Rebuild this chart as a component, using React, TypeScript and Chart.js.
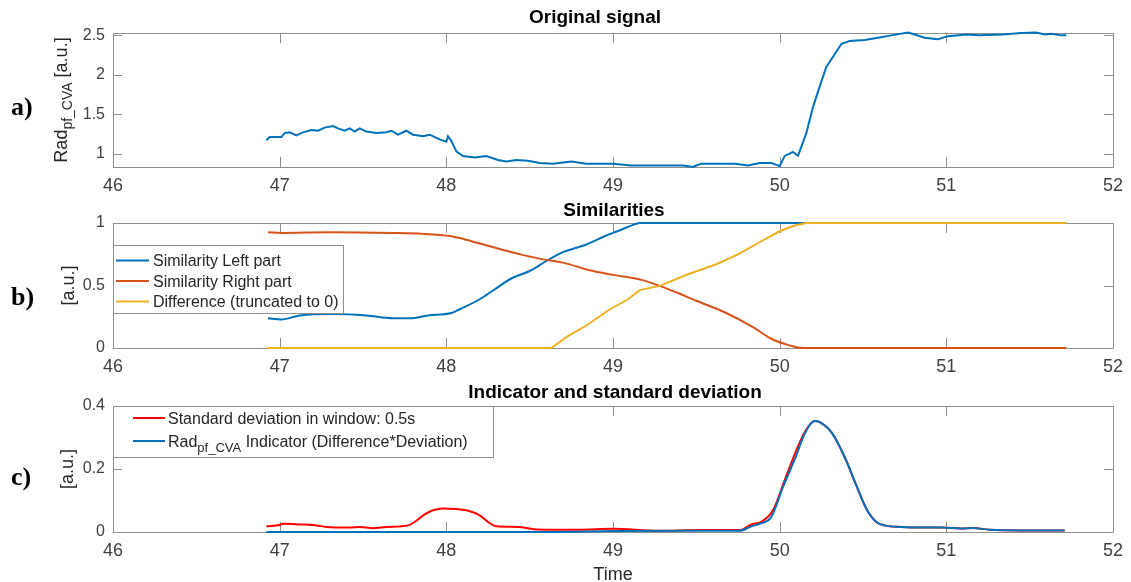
import React, { useEffect, useRef } from "react";
import { Chart, registerables } from "chart.js";

Chart.register(...registerables);

// ---------- data ----------
const timeTicks = [46, 47, 48, 49, 50, 51, 52];
const signalTicks = [1, 1.5, 2, 2.5];
const similarityTicks = [0, 0.5, 1];
const indicatorTicks = [0, 0.2, 0.4];

// a) original signal
const signalTime = [46.92, 46.94, 46.98, 47.01, 47.03, 47.06, 47.1, 47.14, 47.19, 47.23, 47.27, 47.32, 47.35, 47.39, 47.42, 47.45, 47.48, 47.52, 47.58, 47.64, 47.67, 47.71, 47.76, 47.8, 47.86, 47.9, 47.96, 48.0, 48.01, 48.03, 48.06, 48.1, 48.17, 48.24, 48.31, 48.36, 48.42, 48.49, 48.56, 48.64, 48.75, 48.84, 48.92, 49.0, 49.11, 49.23, 49.34, 49.42, 49.48, 49.5, 49.53, 49.64, 49.73, 49.81, 49.88, 49.95, 49.99, 50.0, 50.03, 50.08, 50.11, 50.16, 50.2, 50.24, 50.28, 50.33, 50.37, 50.42, 50.51, 50.59, 50.67, 50.77, 50.81, 50.87, 50.95, 51.01, 51.12, 51.2, 51.34, 51.45, 51.54, 51.59, 51.63, 51.69, 51.72];
const signalValue = [1.17, 1.21, 1.21, 1.21, 1.26, 1.27, 1.23, 1.27, 1.3, 1.29, 1.33, 1.35, 1.32, 1.29, 1.32, 1.28, 1.32, 1.28, 1.26, 1.27, 1.29, 1.24, 1.29, 1.24, 1.22, 1.24, 1.18, 1.15, 1.22, 1.16, 1.03, 0.97, 0.95, 0.97, 0.92, 0.9, 0.92, 0.91, 0.88, 0.87, 0.9, 0.87, 0.87, 0.87, 0.85, 0.85, 0.85, 0.85, 0.83, 0.85, 0.87, 0.87, 0.87, 0.85, 0.88, 0.88, 0.85, 0.84, 0.97, 1.02, 0.97, 1.26, 1.59, 1.85, 2.1, 2.26, 2.39, 2.43, 2.44, 2.47, 2.5, 2.535, 2.51, 2.47, 2.45, 2.49, 2.51, 2.5, 2.51, 2.53, 2.535, 2.51, 2.52, 2.5, 2.5];

// b) similarities
const leftTime = [46.93, 47.01, 47.12, 47.32, 47.52, 47.68, 47.78, 47.89, 48.03, 48.08, 48.2, 48.28, 48.39, 48.5, 48.6, 48.7, 48.84, 48.95, 49.06, 49.11, 49.16, 50.0, 51.0, 51.72];
const leftValue = [0.238, 0.228, 0.26, 0.272, 0.26, 0.238, 0.238, 0.26, 0.28, 0.31, 0.39, 0.46, 0.556, 0.616, 0.696, 0.767, 0.828, 0.894, 0.952, 0.979, 1, 1, 1, 1];
const rightTime = [46.93, 47.01, 47.3, 47.68, 47.86, 48.03, 48.08, 48.19, 48.33, 48.47, 48.58, 48.7, 48.86, 49.0, 49.17, 49.28, 49.39, 49.5, 49.67, 49.84, 49.95, 50.06, 50.14, 51.0, 51.72];
const rightValue = [0.926, 0.921, 0.926, 0.92, 0.913, 0.894, 0.88, 0.84, 0.788, 0.741, 0.709, 0.683, 0.622, 0.585, 0.545, 0.497, 0.44, 0.378, 0.286, 0.167, 0.074, 0.021, 0, 0, 0];
const diffTime = [46.92, 48.0, 48.63, 48.72, 48.84, 48.97, 49.09, 49.16, 49.28, 49.45, 49.62, 49.75, 49.89, 50.0, 50.09, 50.16, 51.0, 51.72];
const diffValue = [0, 0, 0, 0.087, 0.18, 0.3, 0.39, 0.463, 0.497, 0.59, 0.67, 0.749, 0.854, 0.934, 0.98, 1, 1, 1];

// c) standard deviation and indicator
const stdTime = [46.92, 47.0, 47.02, 47.12, 47.22, 47.28, 47.42, 47.48, 47.56, 47.64, 47.77, 47.81, 47.87, 47.92, 47.98, 48.06, 48.12, 48.2, 48.25, 48.3, 48.43, 48.55, 48.79, 49.0, 49.27, 49.52, 49.76, 49.83, 49.89, 49.96, 50.03, 50.1, 50.15, 50.21, 50.24, 50.31, 50.39, 50.46, 50.52, 50.58, 50.63, 50.73, 50.85, 50.97, 51.09, 51.16, 51.26, 51.45, 51.71];
const stdValue = [0.018, 0.022, 0.026, 0.024, 0.021, 0.016, 0.014, 0.016, 0.012, 0.016, 0.021, 0.032, 0.056, 0.069, 0.075, 0.073, 0.069, 0.053, 0.032, 0.018, 0.016, 0.008, 0.007, 0.01, 0.004, 0.006, 0.006, 0.024, 0.032, 0.069, 0.164, 0.259, 0.317, 0.352, 0.349, 0.317, 0.238, 0.148, 0.074, 0.032, 0.021, 0.016, 0.014, 0.014, 0.011, 0.013, 0.007, 0.005, 0.005];
const indicatorTime = [46.92, 48.63, 49.0, 49.5, 49.76, 49.83, 49.88, 49.95, 50.02, 50.1, 50.15, 50.21, 50.24, 50.31, 50.39, 50.46, 50.52, 50.58, 50.63, 50.73, 50.85, 50.97, 51.09, 51.16, 51.26, 51.45, 51.71];
const indicatorValue = [0, 0, 0.003, 0.004, 0.004, 0.018, 0.026, 0.048, 0.143, 0.243, 0.312, 0.352, 0.349, 0.317, 0.238, 0.148, 0.074, 0.032, 0.021, 0.016, 0.014, 0.014, 0.011, 0.013, 0.007, 0.005, 0.005];

// ---------- styling ----------
const SANS = '"Liberation Sans", Arial, Helvetica, sans-serif';
const SERIF = '"Liberation Serif", "Times New Roman", serif';
const TEXT = "#262626";
const TICK_TEXT = "#404040";
const AXIS = "#8f8f8f";
const BLUE = "#0072BD";
const ORANGE = "#D95319";
const YELLOW = "#EDB120";
const RED = "#FF0000";

const WIDTH = 1131;
const AXIS_LEFT = 113;
const AXIS_RIGHT = 1114;

type Part = { text: string; sub?: boolean };
type LegendRow = { y: number; color: string; parts: Part[] };
type LegendSpec = {
  left: number; top: number; width: number; height: number;
  lineX0: number; lineX1: number; textX: number; rows: LegendRow[];
};
type PanelSpec = {
  title: string; titleX: number; titleY: number;
  letter: string; letterY: number;
  yLabel: Part[]; yLabelX: number; yLabelSize: number; yLabelSub: number;
  xLabel?: string; xLabelY?: number;
  yTicks: number[];
  legend?: LegendSpec;
};

function richWidth(ctx: CanvasRenderingContext2D, parts: Part[], size: number, subSize: number) {
  let w = 0;
  for (const p of parts) {
    ctx.font = `${p.sub ? subSize : size}px ${SANS}`;
    w += ctx.measureText(p.text).width;
  }
  return w;
}

function drawRich(ctx: CanvasRenderingContext2D, parts: Part[], x: number, y: number, size: number, subSize: number, drop: number) {
  let cx = x;
  ctx.textAlign = "left";
  ctx.textBaseline = "alphabetic";
  for (const p of parts) {
    ctx.font = `${p.sub ? subSize : size}px ${SANS}`;
    ctx.fillText(p.text, cx, p.sub ? y + drop : y);
    cx += ctx.measureText(p.text).width;
  }
}

function panelPlugin(spec: PanelSpec) {
  return {
    id: "panelDecor",
    beforeDatasetsDraw(chart: any) {
      const { ctx, chartArea: a } = chart;
      const xs = chart.scales.x;
      const ys = chart.scales.y;
      ctx.save();
      ctx.strokeStyle = AXIS;
      ctx.lineWidth = 1;
      ctx.strokeRect(Math.round(a.left) + 0.5, Math.round(a.top) + 0.5, Math.round(a.right - a.left), Math.round(a.bottom - a.top));
      ctx.beginPath();
      for (const t of timeTicks) {
        const px = Math.round(xs.getPixelForValue(t)) + 0.5;
        ctx.moveTo(px, a.bottom);
        ctx.lineTo(px, a.bottom - 10);
        ctx.moveTo(px, a.top);
        ctx.lineTo(px, a.top + 10);
      }
      for (const v of spec.yTicks) {
        const py = Math.round(ys.getPixelForValue(v)) + 0.5;
        ctx.moveTo(a.left, py);
        ctx.lineTo(a.left + 9, py);
        ctx.moveTo(a.right, py);
        ctx.lineTo(a.right - 9, py);
      }
      ctx.stroke();
      ctx.restore();
    },
    afterDatasetsDraw(chart: any) {
      const lg = spec.legend;
      if (!lg) return;
      const ctx: CanvasRenderingContext2D = chart.ctx;
      ctx.save();
      ctx.fillStyle = "#ffffff";
      ctx.fillRect(lg.left, lg.top, lg.width, lg.height);
      ctx.strokeStyle = AXIS;
      ctx.lineWidth = 1;
      ctx.strokeRect(lg.left + 0.5, lg.top + 0.5, lg.width, lg.height);
      for (const r of lg.rows) {
        ctx.strokeStyle = r.color;
        ctx.lineWidth = 2;
        ctx.beginPath();
        ctx.moveTo(lg.lineX0, r.y);
        ctx.lineTo(lg.lineX1, r.y);
        ctx.stroke();
        ctx.fillStyle = TEXT;
        drawRich(ctx, r.parts, lg.textX, r.y + 5.7, 16, 13, 5);
      }
      ctx.restore();
    },
    afterDraw(chart: any) {
      const ctx: CanvasRenderingContext2D = chart.ctx;
      const a = chart.chartArea;
      ctx.save();
      // title
      ctx.fillStyle = "#000000";
      ctx.font = `bold 19px ${SANS}`;
      ctx.textAlign = "center";
      ctx.textBaseline = "alphabetic";
      ctx.fillText(spec.title, spec.titleX, spec.titleY);
      // panel letter
      ctx.font = `bold 26px ${SERIF}`;
      ctx.textAlign = "left";
      ctx.fillText(spec.letter, 11, spec.letterY);
      // y label (rotated, may contain a subscript)
      ctx.fillStyle = TEXT;
      const w = richWidth(ctx, spec.yLabel, spec.yLabelSize, spec.yLabelSub);
      ctx.translate(spec.yLabelX, (a.top + a.bottom) / 2);
      ctx.rotate(-Math.PI / 2);
      drawRich(ctx, spec.yLabel, -w / 2, 0, spec.yLabelSize, spec.yLabelSub, 5);
      ctx.setTransform(1, 0, 0, 1, 0, 0);
      // x label
      if (spec.xLabel) {
        ctx.font = `18px ${SANS}`;
        ctx.textAlign = "center";
        ctx.fillText(spec.xLabel, (a.left + a.right) / 2, spec.xLabelY as number);
      }
      ctx.restore();
    },
  };
}

// Later series in a panel are painted over earlier ones (lower `order` is drawn last).
function series(label: string, xs: number[], ys: number[], color: string, smooth: boolean, order: number) {
  return {
    label,
    data: xs.map((x, i) => ({ x, y: ys[i] })),
    borderColor: color,
    backgroundColor: color,
    borderWidth: 2,
    pointRadius: 0,
    fill: false,
    tension: 0,
    cubicInterpolationMode: smooth ? "monotone" : "default",
    clip: false,
    order,
  };
}

type PanelConfig = {
  height: number; areaTop: number; areaBottom: number;
  yMin: number; yMax: number; datasets: any[]; spec: PanelSpec;
};

function buildChart(canvas: HTMLCanvasElement, cfg: PanelConfig) {
  const tickFont = { family: SANS, size: 18 };
  return new Chart(canvas, {
    type: "line",
    data: { datasets: cfg.datasets },
    options: {
      responsive: false,
      animation: false,
      devicePixelRatio: 1,
      events: [],
      layout: { padding: { top: cfg.areaTop, right: WIDTH - AXIS_RIGHT, left: 0, bottom: 0 } },
      plugins: { legend: { display: false }, title: { display: false }, tooltip: { enabled: false } },
      scales: {
        x: {
          type: "linear",
          min: 46,
          max: 52,
          afterBuildTicks: (s: any) => { s.ticks = timeTicks.map((v) => ({ value: v })); },
          afterFit: (s: any) => { s.height = cfg.height - cfg.areaBottom; },
          grid: { display: false, drawTicks: false },
          border: { display: false },
          ticks: { font: tickFont, color: TICK_TEXT, padding: 8, maxRotation: 0, autoSkip: false, callback: (v: any) => String(v) },
        },
        y: {
          type: "linear",
          min: cfg.yMin,
          max: cfg.yMax,
          afterBuildTicks: (s: any) => { s.ticks = cfg.spec.yTicks.map((v) => ({ value: v })); },
          afterFit: (s: any) => { s.width = AXIS_LEFT; },
          grid: { display: false, drawTicks: false },
          border: { display: false },
          ticks: { font: { family: SANS, size: 16 }, color: TICK_TEXT, padding: 8, autoSkip: false, callback: (v: any) => String(v) },
        },
      },
    } as any,
    plugins: [panelPlugin(cfg.spec) as any],
  });
}

const radLabel: Part[] = [{ text: "Rad" }, { text: "pf_CVA", sub: true }, { text: " [a.u.]" }];
const auLabel: Part[] = [{ text: "[a.u.]" }];

const PANELS: { top: number; cfg: PanelConfig }[] = [
  {
    top: 0,
    cfg: {
      height: 198, areaTop: 33, areaBottom: 167, yMin: 0.83, yMax: 2.53,
      datasets: [series("Original signal", signalTime, signalValue, BLUE, false, 0)],
      spec: {
        title: "Original signal", titleX: 595, titleY: 23,
        letter: "a)", letterY: 115,
        yLabel: radLabel, yLabelX: 67, yLabelSize: 18, yLabelSub: 14,
        yTicks: signalTicks,
      },
    },
  },
  {
    top: 195,
    cfg: {
      height: 185, areaTop: 28, areaBottom: 153, yMin: 0, yMax: 1,
      datasets: [
        series("Similarity Left part", leftTime, leftValue, BLUE, true, 2),
        series("Similarity Right part", rightTime, rightValue, ORANGE, true, 1),
        series("Difference (truncated to 0)", diffTime, diffValue, YELLOW, false, 0),
      ],
      spec: {
        title: "Similarities", titleX: 614, titleY: 21,
        letter: "b)", letterY: 110,
        yLabel: auLabel, yLabelX: 74, yLabelSize: 18, yLabelSub: 14,
        yTicks: similarityTicks,
        legend: {
          left: 113, top: 50, width: 230, height: 68,
          lineX0: 116, lineX1: 149, textX: 153,
          rows: [
            { y: 65.5, color: BLUE, parts: [{ text: "Similarity Left part" }] },
            { y: 86, color: ORANGE, parts: [{ text: "Similarity Right part" }] },
            { y: 106.5, color: YELLOW, parts: [{ text: "Difference (truncated to 0)" }] },
          ],
        },
      },
    },
  },
  {
    top: 380,
    cfg: {
      height: 202, areaTop: 26, areaBottom: 152, yMin: 0, yMax: 0.4,
      datasets: [
        series("Standard deviation in window: 0.5s", stdTime, stdValue, RED, true, 1),
        series("Rad_pf_CVA Indicator (Difference*Deviation)", indicatorTime, indicatorValue, BLUE, true, 0),
      ],
      spec: {
        title: "Indicator and standard deviation", titleX: 615, titleY: 18,
        letter: "c)", letterY: 105,
        yLabel: auLabel, yLabelX: 73, yLabelSize: 18, yLabelSub: 14,
        xLabel: "Time", xLabelY: 200,
        yTicks: indicatorTicks,
        legend: {
          left: 113, top: 26, width: 380, height: 51,
          lineX0: 133, lineX1: 165, textX: 168,
          rows: [
            { y: 38, color: RED, parts: [{ text: "Standard deviation in window: 0.5s" }] },
            { y: 61, color: BLUE, parts: [{ text: "Rad" }, { text: "pf_CVA", sub: true }, { text: " Indicator (Difference*Deviation)" }] },
          ],
        },
      },
    },
  },
];

export default function App() {
  const refs = [useRef<HTMLCanvasElement>(null), useRef<HTMLCanvasElement>(null), useRef<HTMLCanvasElement>(null)];

  useEffect(() => {
    const charts = PANELS.map((p, i) => buildChart(refs[i].current as HTMLCanvasElement, p.cfg));
    return () => charts.forEach((c) => c.destroy());
  }, []);

  return (
    <div style={{ position: "fixed", left: 0, top: 0, width: WIDTH, height: 582, background: "#ffffff", overflow: "hidden" }}>
      {PANELS.map((p, i) => (
        <canvas
          key={i}
          ref={refs[i]}
          width={WIDTH}
          height={p.cfg.height}
          style={{ position: "absolute", left: 0, top: p.top, width: WIDTH, height: p.cfg.height, display: "block" }}
        />
      ))}
    </div>
  );
}
